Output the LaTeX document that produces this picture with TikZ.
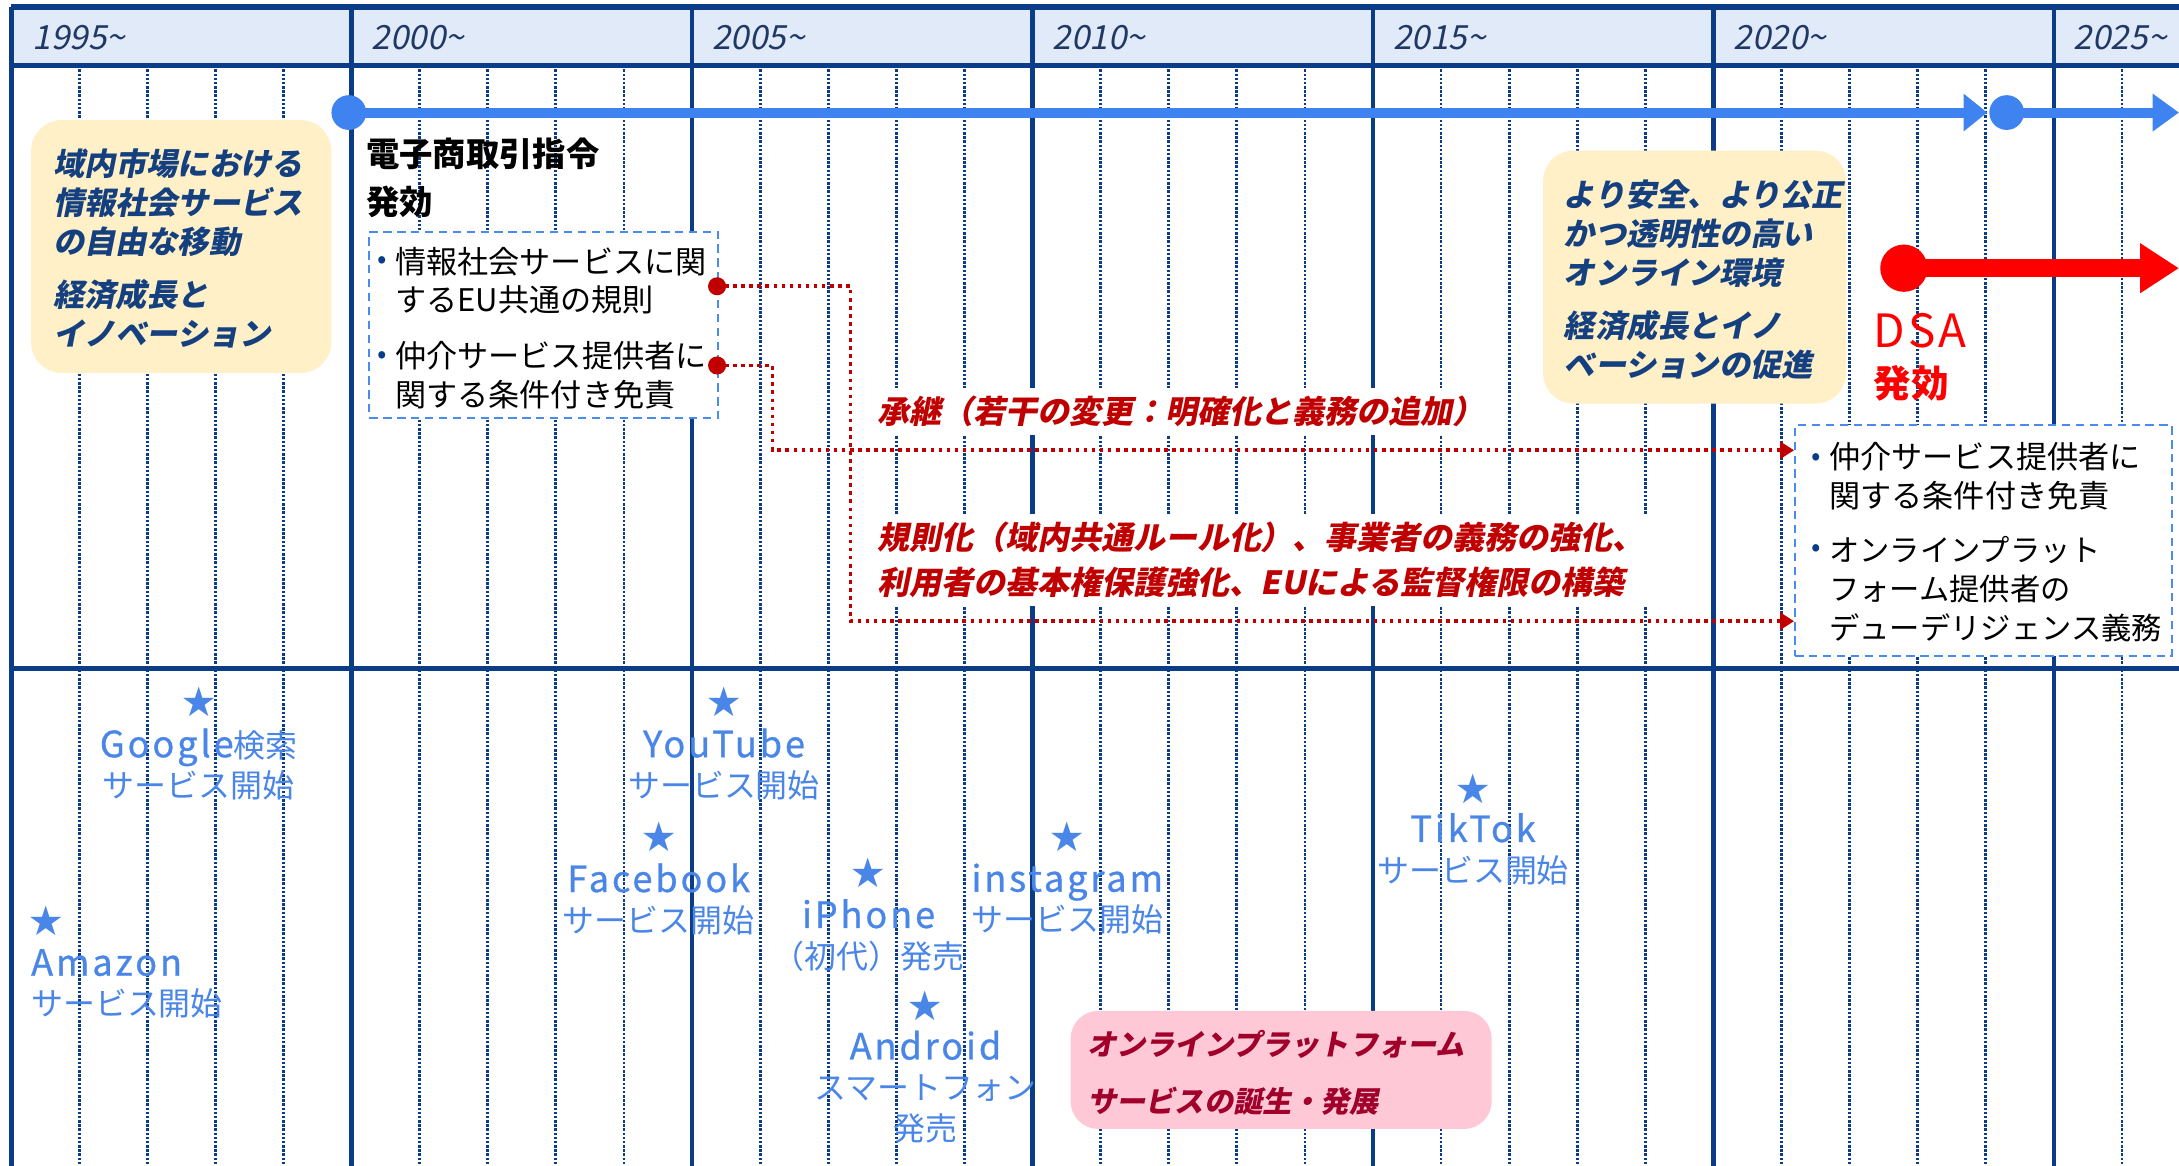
\documentclass[tikz,border=0pt]{standalone}
\usepackage{fontspec}
\setmainfont{Noto Sans CJK JP}
\newfontfamily\jp{Noto Sans CJK JP}
\newfontfamily\jpsl[FakeSlant=0.2]{Noto Sans CJK JP}
\newfontfamily\lblf[LetterSpace=8,FakeBold=0.8]{Noto Sans CJK JP}
\newfontfamily\dsaf[LetterSpace=6]{Noto Sans CJK JP}
\newcommand\lbl[1]{{\lblf\fontsize{13}{14.5}\selectfont #1}}
\usetikzlibrary{arrows.meta}
\definecolor{navy}{HTML}{0B3C87}
\definecolor{hdr}{HTML}{E1EAF9}
\definecolor{txtnavy}{HTML}{1F3864}
\definecolor{goaltx}{HTML}{15407F}
\definecolor{barblue}{HTML}{3F83F0}
\definecolor{dashblue}{HTML}{4A8BF0}
\definecolor{dred}{HTML}{C00000}
\definecolor{bred}{HTML}{FF0000}
\definecolor{creambg}{HTML}{FFF0C8}
\definecolor{pinkbg}{HTML}{FFC8D6}
\definecolor{pinktx}{HTML}{A0002A}
\definecolor{lblue}{HTML}{4A86E8}
\begin{document}
\begin{tikzpicture}[x=0.5pt,y=-0.5pt,
  major/.style={navy,line width=1.75pt},
  minor/.style={navy,line width=1pt,dash pattern=on 0.9pt off 0.6pt},
  frame/.style={navy,line width=1.9pt},
  yr/.style={anchor=west,inner sep=0,text=txtnavy,font=\jpsl\fontsize{12}{13}\selectfont},
  goal/.style={anchor=west,align=left,inner sep=0,text=goaltx,font=\jpsl\bfseries\fontsize{11.2}{14}\selectfont},
  creambox/.style={fill=creambg,draw=none,rounded corners=11pt,anchor=north west,inner sep=0},
  dbox/.style={draw=dashblue,fill=white,line width=0.8pt,dash pattern=on 3pt off 2pt,anchor=north west,inner sep=0},
  item/.style={anchor=west,align=left,inner sep=0,font=\jp\fontsize{11.2}{14}\selectfont},
  bul/.style={inner sep=0,text=navy,font=\jp\fontsize{10}{10}\selectfont},
  redtx/.style={anchor=west,align=left,fill=white,inner sep=3pt,text=dred,font=\jpsl\bfseries\fontsize{11.5}{16}\selectfont},
  reddot/.style={dred,line width=1.3pt,dash pattern=on 1.3pt off 1.6pt},
  rdot/.style={circle,fill=dred,inner sep=0,minimum size=6.5pt},
  star/.style={text=lblue,inner sep=0,font=\jp\fontsize{12}{12}\selectfont},
  svc/.style={text=lblue,inner sep=0,align=center,font=\jp\fontsize{11.5}{14.5}\selectfont},
]
\clip (0,0) rectangle (1568,839);
\fill[white] (0,0) rectangle (1568,839);
% header band
\fill[hdr] (8,5) rectangle (1568,47);
% grid
\foreach \j in {1,...,31}{
  \pgfmathtruncatemacro\r{mod(\j,5)}
  \ifnum\r=0\relax\else
    \draw[minor] (8+49*\j,47) -- (8+49*\j,839);
  \fi
}
\foreach \k in {0,...,6}{
  \draw[major] (8+245*\k,5) -- (8+245*\k,839);
}
\draw[frame] (8,5) -- (1568,5);
\draw[frame] (8,47) -- (1568,47);
\draw[frame] (8,481) -- (1568,481);
% years
\node[yr] (y1995) at (23,27) {1995\textasciitilde};
\node[yr] (y2000) at (267,27) {2000\textasciitilde};
\node[yr] (y2005) at (512,27) {2005\textasciitilde};
\node[yr] (y2010) at (757,27) {2010\textasciitilde};
\node[yr] (y2015) at (1002,27) {2015\textasciitilde};
\node[yr] (y2020) at (1247,27) {2020\textasciitilde};
\node[yr] (y2025) at (1492,27) {2025\textasciitilde};

% boxes
\node[creambox,minimum width=108pt,minimum height=91pt] (goalL) at (22,86) {};
\node[creambox,minimum width=109pt,minimum height=91pt] (goalR) at (1110,108) {};
\node[dbox,minimum width=125.5pt,minimum height=67pt] (ecbox) at (265,166) {};
\node[dbox,minimum width=135.5pt,minimum height=83pt] (dsabox) at (1291,305) {};
\node[fill=pinkbg,draw=none,rounded corners=10pt,anchor=north west,inner sep=0,minimum width=151.5pt,minimum height=42.5pt] (pink) at (770,727) {};

% blue timeline
\node[circle,fill=barblue,inner sep=0,minimum size=12.5pt] (bc1) at (251,81) {};
\node[circle,fill=barblue,inner sep=0,minimum size=12.5pt] (bc2) at (1444,81) {};
\coordinate (bt1) at (1430,81);
\coordinate (bt2) at (1568,81);
\draw[barblue,line width=3.6pt,-{Triangle[length=8.5pt,width=13pt]}] (bc1.center) -- (bt1);
\draw[barblue,line width=3.6pt,-{Triangle[length=9.5pt,width=13pt]}] (bc2.center) -- (bt2);

% red DSA arrow
\node[circle,fill=bred,inner sep=0,minimum size=17pt] (rc) at (1370,193) {};
\coordinate (rt) at (1568,193);
\draw[bred,line width=6.5pt,-{Triangle[length=14pt,width=17pt]}] (rc.center) -- (rt);

% goal texts
\node[goal] (gl1) at (38,146) {域内市場における\\情報社会サービス\\の自由な移動};
\node[goal] (gl2) at (38,226) {経済成長と\\イノベーション};
\node[goal] (gr1) at (1125,168) {より安全、より公正\\かつ透明性の高い\\オンライン環境};
\node[goal] (gr2) at (1125,248) {経済成長とイノ\\ベーションの促進};

% e-commerce directive
\node[anchor=west,align=left,inner sep=0,font=\jp\bfseries\fontsize{12}{17}\selectfont] (ecd) at (263,128) {電子商取引指令\\発効};
\node[bul] (b1) at (275,189) {•};
\node[item] (e1) at (284,202) {情報社会サービスに関\\するEU共通の規則};
\node[bul] (b2) at (275,257) {•};
\node[item] (e2) at (284,270) {仲介サービス提供者に\\関する条件付き免責};

% DSA
\node[anchor=west,inner sep=0,text=bred,font=\dsaf\fontsize{16.5}{18}\selectfont] (dsa) at (1348,238) {DSA};
\node[anchor=west,inner sep=0,text=bred,font=\jp\bfseries\fontsize{13.5}{15}\selectfont] (dsaeff) at (1348,276) {発効};
\node[bul] (b3) at (1307,331) {•};
\node[item] (s1) at (1316,343) {仲介サービス提供者に\\関する条件付き免責};
\node[bul] (b4) at (1307,396) {•};
\node[item,font=\jp\fontsize{10.9}{14}\selectfont] (s2) at (1316,424) {オンラインプラット\\フォーム提供者の\\デューデリジェンス義務};

% connectors
\node[rdot] (d1) at (516,206) {};
\node[rdot] (d2) at (516,263) {};
\coordinate (k1) at (612,206);
\coordinate (k2) at (556,263);
\coordinate (t1) at (1291,447);
\coordinate (t2) at (1291,324);
\draw[reddot,-{Triangle[length=5pt,width=6pt]}] (d1.center) -- (k1) |- (t1);
\draw[reddot,-{Triangle[length=5pt,width=6pt]}] (d2.center) -- (k2) |- (t2);

% red labels
\node[redtx] (inherit) at (625,296) {承継（若干の変更：明確化と義務の追加）};
\node[redtx] (regul) at (625,403) {規則化（域内共通ルール化）、事業者の義務の強化、\\利用者の基本権保護強化、EUによる監督権限の構築};

% services
\node[star] (sg) at (143,505) {★};
\node[svc] (g) at (143,550) {\lbl{Google}検索\\サービス開始};
\node[star] (sy) at (521,505) {★};
\node[svc] (yt) at (521,550) {\lbl{YouTube}\\サービス開始};
\node[star] (sf) at (474,602) {★};
\node[svc] (fb) at (474,647) {\lbl{Facebook}\\サービス開始};
\node[star] (sa) at (33,663) {★};
\node[svc,anchor=west,align=left] (amz) at (22,708) {\lbl{Amazon}\\サービス開始};
\node[star] (si) at (625,628) {★};
\node[svc] (iph) at (625,673) {\lbl{iPhone}\\（初代）発売};
\node[star] (sig) at (768,602) {★};
\node[svc] (ig) at (768,647) {\lbl{instagram}\\サービス開始};
\node[star] (sand) at (666,724) {★};
\node[svc] (andr) at (666,782) {\lbl{Android}\\スマートフォン\\発売};
\node[star] (st) at (1060,568) {★};
\node[svc] (tt) at (1060,611) {\lbl{TikTok}\\サービス開始};

% pink text
\node[anchor=west,align=left,inner sep=0,text=pinktx,font=\jpsl\bfseries\fontsize{10.5}{20.5}\selectfont] (pinktext) at (782,772) {オンラインプラットフォーム\\サービスの誕生・発展};
\end{tikzpicture}
\end{document}
